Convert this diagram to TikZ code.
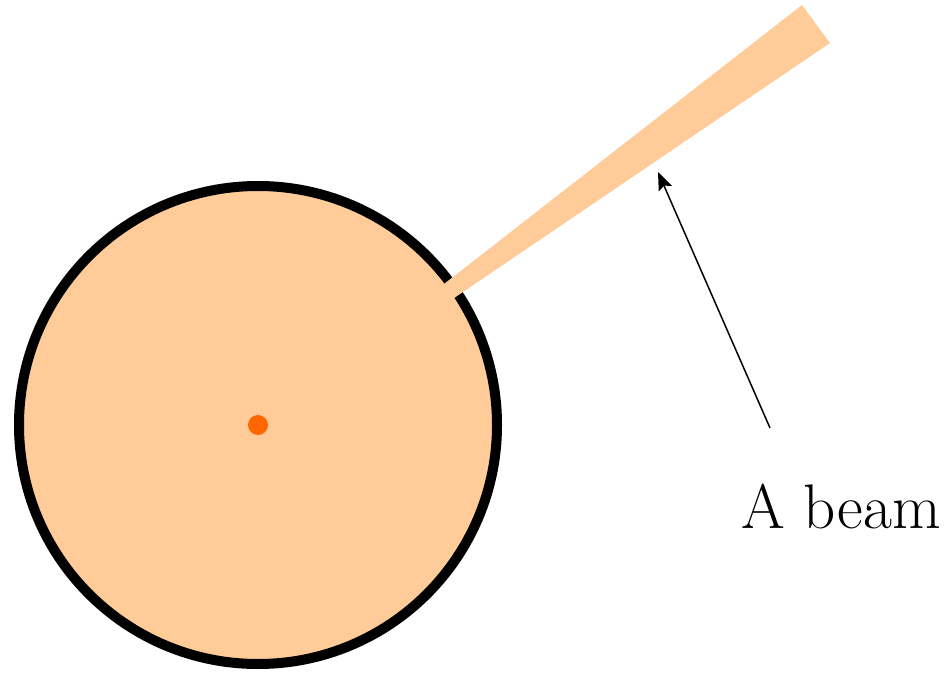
\documentclass[tikz,border=0pt]{standalone}
\usetikzlibrary{arrows.meta}
\definecolor{peach}{HTML}{FFCC99}
\definecolor{dotorange}{HTML}{FF6600}
\begin{document}
\begin{tikzpicture}[x=1pt, y=-1pt]
% canvas in pixel units, y pointing down
\providecommand{\ringWidth}{10pt}
\providecommand{\ringRadius}{239}
\tikzset{
  pointer/.style={draw=black, line width=1.5pt, -{Stealth[length=18pt,width=14pt,inset=3pt]}},
  caption/.style={inner sep=0pt, anchor=base west, font=\fontsize{63}{70}\selectfont}
}
\useasboundingbox (0,0) rectangle (951,674);
% Disc with thick outline
\path[fill=peach, draw=black, line width=\ringWidth] (258,425) circle (\ringRadius);
% Beam wedge drawn over the outline
\fill[peach] (435,291) -- (802,5) -- (830,43) -- (435,311) -- cycle;
% Centre dot
\fill[dotorange] (258,425) circle (10);
% Label and pointer
\node[caption] (label) at (741,528) {A beam};
\coordinate (tail) at (770,428);
\coordinate (tip) at (658,172);
\draw[pointer] (tail) -- (tip);
\end{tikzpicture}
\end{document}
